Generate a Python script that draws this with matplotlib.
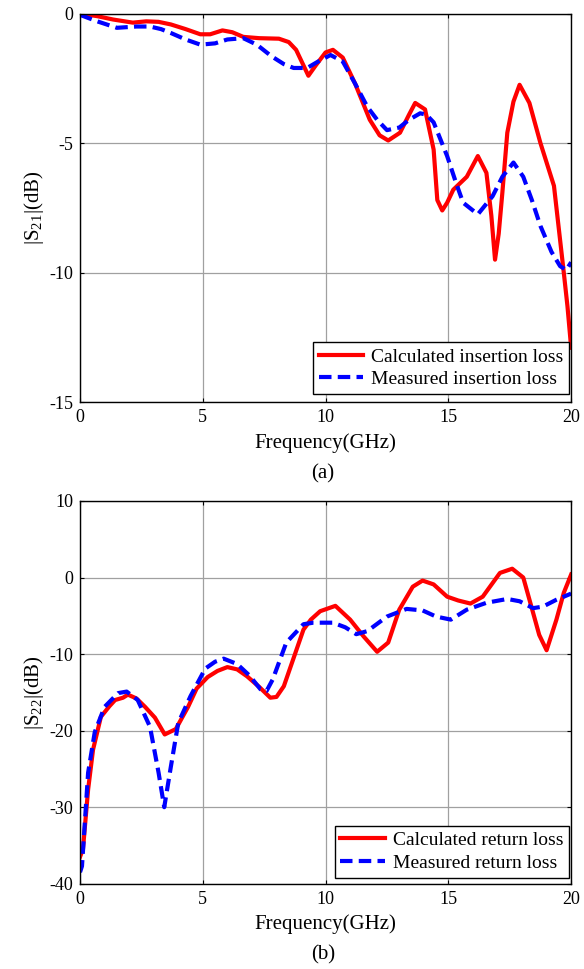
import numpy as np
import matplotlib
matplotlib.use("Agg")
import matplotlib.pyplot as plt

plt.rcParams['font.family'] = ['Liberation Serif', 'DejaVu Serif']
plt.rcParams['mathtext.fontset'] = 'custom'
plt.rcParams['mathtext.rm'] = 'Liberation Serif'
plt.rcParams['axes.unicode_minus'] = False

# (a) insertion loss |S21|
f21_calc = [0, 0.7, 1.35, 2.15, 2.7, 3.2, 3.7, 4.3, 4.9, 5.3, 5.8, 6.2, 6.65, 7.3, 8.1, 8.5,
            8.8, 9.0, 9.3, 9.6, 10.0, 10.3, 10.7, 11.2, 11.8, 12.2, 12.55, 13.03, 13.4, 13.65,
            14.05, 14.4, 14.55, 14.75, 14.95, 15.2, 15.75, 16.2, 16.55, 16.75, 16.9, 17.05,
            17.2, 17.4, 17.65, 17.9, 18.3, 18.75, 19.3, 19.7, 19.85, 20]
s21_calc = [0, -0.1, -0.23, -0.35, -0.3, -0.32, -0.42, -0.6, -0.8, -0.8, -0.65, -0.72, -0.9,
            -0.95, -0.97, -1.1, -1.4, -1.8, -2.4, -2.0, -1.5, -1.4, -1.7, -2.7, -4.1, -4.7,
            -4.9, -4.6, -3.9, -3.45, -3.7, -5.25, -7.2, -7.6, -7.3, -6.8, -6.3, -5.5, -6.15,
            -7.8, -9.5, -8.5, -6.9, -4.6, -3.4, -2.75, -3.45, -5.0, -6.65, -10.0, -11.3, -12.9]

f21_meas = [0, 0.7, 1.5, 2.3, 2.85, 3.3, 3.7, 4.3, 4.9, 5.5, 6.0, 6.65, 7.2, 7.8, 8.3, 8.7,
            9.25, 9.7, 10.2, 10.7, 11.2, 11.7, 12.1, 12.5, 13.0, 13.4, 13.85, 14.1, 14.4,
            14.95, 15.3, 15.6, 16.2, 16.8, 17.2, 17.65, 18.05, 18.4, 18.75, 19.2, 19.55, 19.8, 20]
s21_meas = [-0.05, -0.3, -0.55, -0.5, -0.5, -0.6, -0.75, -1.0, -1.2, -1.15, -1.0, -0.95,
            -1.2, -1.65, -1.95, -2.1, -2.1, -1.85, -1.6, -1.85, -2.7, -3.6, -4.1, -4.5, -4.4,
            -4.1, -3.85, -3.9, -4.2, -5.5, -6.5, -7.3, -7.75, -7.05, -6.3, -5.75, -6.3, -7.2,
            -8.2, -9.2, -9.75, -9.9, -9.6]

# (b) return loss |S22|
f22_calc = [0, 0.12, 0.33, 0.53, 0.85, 1.2, 1.43, 1.75, 1.95, 2.3, 2.65, 3.05, 3.45, 3.9,
            4.4, 4.75, 5.2, 5.6, 6.0, 6.4, 6.8, 7.3, 7.75, 8.0, 8.3, 8.7, 9.1, 9.4, 9.78,
            10.4, 11.0, 11.55, 12.1, 12.55, 13.0, 13.55, 13.95, 14.4, 14.95, 15.4, 15.9,
            16.4, 17.1, 17.6, 18.05, 18.45, 18.7, 19.0, 19.4, 19.7, 20]
s22_calc = [-36.5, -35.5, -27.7, -22.5, -18.2, -16.8, -16.0, -15.7, -15.3, -15.8, -16.9,
            -18.3, -20.5, -19.8, -16.9, -14.5, -13.0, -12.2, -11.7, -12.0, -12.9, -14.3,
            -15.7, -15.6, -14.2, -10.5, -6.8, -5.5, -4.4, -3.7, -5.5, -7.7, -9.7, -8.5,
            -4.2, -1.2, -0.4, -0.9, -2.5, -3.0, -3.4, -2.5, 0.6, 1.15, 0.0, -4.6, -7.5,
            -9.5, -5.5, -2.0, 0.4]

f22_meas = [0, 0.08, 0.33, 0.6, 1.0, 1.55, 1.9, 2.35, 2.85, 3.2, 3.43, 3.7, 4.0, 4.5, 5.1,
            5.5, 5.85, 6.4, 6.9, 7.35, 7.6, 7.85, 8.4, 9.1, 9.5, 10.3, 10.8, 11.25, 11.7,
            12.5, 13.3, 13.95, 14.5, 15.1, 15.75, 16.55, 17.4, 17.9, 18.45, 18.85, 19.4, 20]
s22_meas = [-38.5, -37.7, -25.5, -20.2, -16.9, -15.1, -14.9, -16.0, -19.5, -25.5, -30.0,
            -24.7, -19.0, -15.5, -11.9, -11.0, -10.6, -11.3, -12.8, -14.6, -14.8, -13.3,
            -8.5, -6.1, -5.9, -5.9, -6.5, -7.4, -7.0, -5.1, -4.1, -4.3, -5.1, -5.5, -4.2,
            -3.3, -2.8, -3.1, -4.0, -3.8, -2.9, -2.1]

fig = plt.figure(figsize=(5.84, 9.69), dpi=100)
ax1 = fig.add_axes([0.137, 0.585, 0.841, 0.401])
ax2 = fig.add_axes([0.137, 0.088, 0.841, 0.395])


def style(ax, ylim, yticks, ylabel):
    ax.set_xlim(0, 20)
    ax.set_ylim(*ylim)
    ax.set_xticks([0, 5, 10, 15, 20])
    ax.set_yticks(yticks)
    ax.grid(True, color='#a0a0a0', linewidth=0.9)
    ax.tick_params(direction='in', top=True, right=True, length=3, labelsize=13, pad=5)
    for sp in ax.spines.values():
        sp.set_linewidth(1.0)
    ax.set_xlabel('Frequency(GHz)', fontsize=15, labelpad=5)
    ax.set_ylabel(ylabel, fontsize=15, labelpad=2)


leg_kw = dict(loc='lower right', borderaxespad=0, fancybox=False, edgecolor='black',
              framealpha=1, fontsize=14, handlelength=2.3, handletextpad=0.4,
              labelspacing=0.25, borderpad=0.3)

ax1.plot(f21_calc, s21_calc, color='red', lw=3, label='Calculated insertion loss')
ax1.plot(f21_meas, s21_meas, color='blue', lw=3, ls='--', dashes=(3, 1.5),
         label='Measured insertion loss')
style(ax1, (-15, 0), [-15, -10, -5, 0], r'|S$_{\mathregular{21}}$|(dB)')
ax1.legend(bbox_to_anchor=(0.996, 0.021), **leg_kw)

ax2.plot(f22_calc, s22_calc, color='red', lw=3, label='Calculated return loss')
ax2.plot(f22_meas, s22_meas, color='blue', lw=3, ls='--', dashes=(3, 1.5),
         label='Measured return loss')
style(ax2, (-40, 10), [-40, -30, -20, -10, 0, 10], r'|S$_{\mathregular{22}}$|(dB)')
ax2.legend(bbox_to_anchor=(0.996, 0.016), **leg_kw)

fig.text(0.553, 0.511, '(a)', ha='center', va='center', fontsize=15)
fig.text(0.553, 0.0145, '(b)', ha='center', va='center', fontsize=15)

fig.savefig('out.png', dpi=100)
